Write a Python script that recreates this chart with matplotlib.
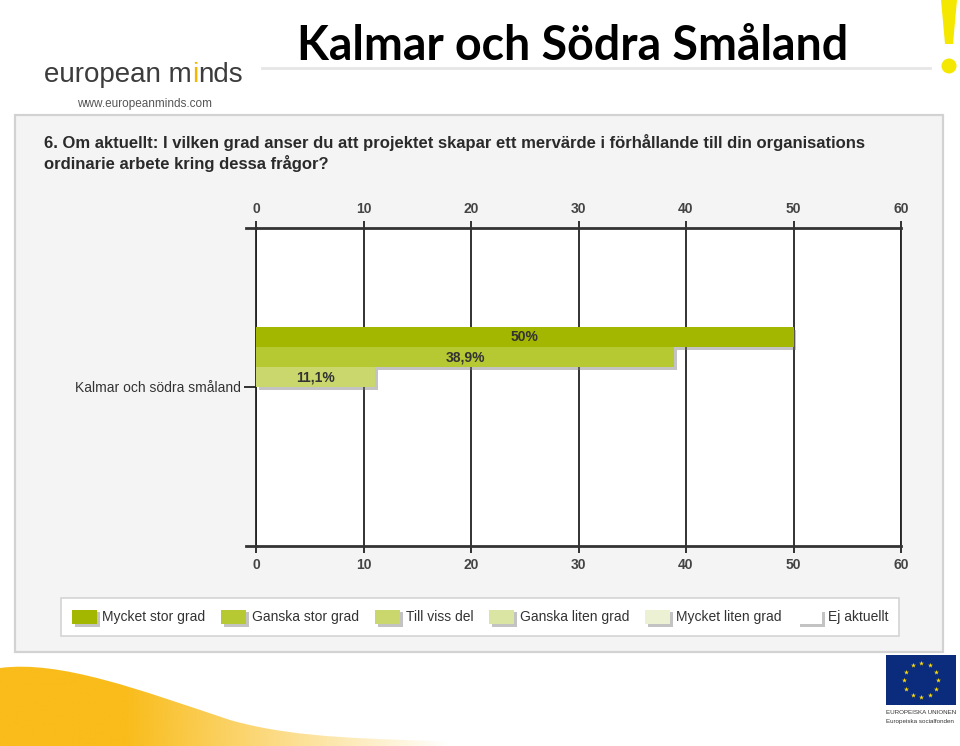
import matplotlib
matplotlib.use("Agg")
import matplotlib.pyplot as plt
import numpy as np
import matplotlib.patheffects as pe
from matplotlib.patches import Rectangle, Polygon, Circle, PathPatch
from matplotlib.path import Path
from matplotlib import font_manager

# ---------------- data ----------------
categories = ["Kalmar och södra småland"]
series_names = ["Mycket stor grad", "Ganska stor grad", "Till viss del",
                "Ganska liten grad", "Mycket liten grad", "Ej aktuellt"]
series_values = [50.0, 38.9, 11.1, 0.0, 0.0, 0.0]
value_labels = ["50%", "38,9%", "11,1%", "", "", ""]
series_colors = ["#a4b700", "#b6c832", "#c9d76c", "#dae5a4", "#ecf1d4", "#ffffff"]
x_ticks = [0, 10, 20, 30, 40, 50, 60]
question = ("6. Om aktuellt: I vilken grad anser du att projektet skapar ett mervärde "
            "i förhållande till din organisations\nordinarie arbete kring dessa frågor?")
slide_title = "Kalmar och Södra Småland"
logo_parts = ["european m", "i", "nds"]
logo_url = "www.europeanminds.com"
eu_lines = ["EUROPEISKA UNIONEN", "Europeiska socialfonden"]

names = {f.name for f in font_manager.fontManager.ttflist}
SANS = "Liberation Sans"
NARROW = "Liberation Sans Narrow" if "Liberation Sans Narrow" in names else SANS
TITLEF = "Lato" if "Lato" in names else "DejaVu Sans"

W, H = 960, 746
fig = plt.figure(figsize=(W / 100, H / 100), dpi=100)
fig.patch.set_facecolor("white")

# background / decoration axes in pixel coordinates
bg = fig.add_axes([0, 0, 1, 1])
bg.set_xlim(0, W)
bg.set_ylim(H, 0)
bg.axis("off")
bg.set_zorder(0)

# yellow swoosh with gradient
verts = [(0, 668), (60, 660), (140, 690), (230, 720), (300, 740), (380, 738), (450, 742),
         (450, 746), (0, 746), (0, 668)]
codes = [Path.MOVETO, Path.CURVE4, Path.CURVE4, Path.CURVE4, Path.CURVE4, Path.CURVE4,
         Path.CURVE4, Path.LINETO, Path.LINETO, Path.CLOSEPOLY]
swoosh = PathPatch(Path(verts, codes), fc="none", ec="none", transform=bg.transData)
bg.add_patch(swoosh)
N = 256
grad = np.zeros((1, N, 4))
grad[..., 0] = 249 / 255
grad[..., 1] = 188 / 255
grad[..., 2] = 26 / 255
xs = np.linspace(0, 1, N)
grad[0, :, 3] = np.clip((1.0 - xs) / 0.72, 0, 1)
im = bg.imshow(grad, extent=(0, 450, 746, 655), aspect="auto", zorder=1)
im.set_clip_path(swoosh)
bg.set_xlim(0, W)
bg.set_ylim(H, 0)

# chart panel
bg.add_patch(Rectangle((15, 115), 928, 537, fc="#f4f4f4", ec="#d2d2d2", lw=1.6, zorder=2))

# header: logo
LOGO_FS = 20
t1 = bg.text(44, 82, logo_parts[0], fontsize=LOGO_FS, family=NARROW, color="#3c3c3c",
             va="baseline", ha="left", zorder=3)
t2 = bg.annotate(logo_parts[1], xy=(1, 0), xycoords=t1, fontsize=LOGO_FS, family=NARROW,
                 color="#f2b705", va="bottom", ha="left", zorder=3)
t3 = bg.annotate(logo_parts[2], xy=(1, 0), xycoords=t2, fontsize=LOGO_FS, family=NARROW,
                 color="#3c3c3c", va="bottom", ha="left", zorder=3)
bg.text(145, 104, logo_url, fontsize=8.5, family=SANS, color="#555555",
        ha="center", va="center", zorder=3)

# slide title
bg.text(297, 60, slide_title, fontsize=33.5, family=TITLEF, fontweight="bold",
        color="#000000", ha="left", va="baseline", zorder=3)
bg.plot([262, 930], [68, 68], color="#e6e6e6", lw=2, zorder=3)

# exclamation mark
bg.add_patch(Polygon([(941, 0), (957, 0), (953, 44), (945, 44)], closed=True,
                     fc="#f5e800", ec="none", zorder=3))
bg.add_patch(Circle((949, 66), 7.5, fc="#f5e800", ec="none", zorder=3))

# EU flag
bg.add_patch(Rectangle((886, 655), 70, 50, fc="#0b2b7c", ec="none", zorder=3))
ang = np.linspace(0, 2 * np.pi, 13)[:-1]
bg.scatter(921 + 17 * np.cos(ang), 680 + 17 * np.sin(ang), marker="*", s=14,
           color="#ffdd00", linewidths=0, zorder=4)
bg.text(886, 713, eu_lines[0], fontsize=4.5, family=SANS, color="#333333",
        ha="left", va="center", zorder=3)
bg.text(886, 721, eu_lines[1], fontsize=4.5, family=SANS, color="#333333",
        ha="left", va="center", zorder=3)

# question text
bg.text(44, 153, question, fontsize=12, family=NARROW, fontweight="bold",
        color="#2a2a2a", ha="left", va="center", linespacing=1.25, zorder=3)

# ---------------- chart ----------------
ax = fig.add_axes([256 / W, 1 - 546 / H, 645 / W, 318 / H])
ax.set_zorder(1)
ax.set_facecolor("white")
ax.set_xlim(0, 60)
ax.set_ylim(-0.5, 0.5)

n = len(series_values)
h = 20 / 318
shadow = [pe.SimplePatchShadow(offset=(2, -2), shadow_rgbFace="#7a7a7a", alpha=0.45), pe.Normal()]
for i, (name, val, col, lab) in enumerate(zip(series_names, series_values, series_colors, value_labels)):
    off = (n / 2 - 0.5 - i) * h
    bc = ax.barh([k + off for k in range(len(categories))], [val], height=h, color=col,
                 label=name, path_effects=shadow, zorder=3, lw=0)
    if lab:
        ax.bar_label(bc, labels=[lab], label_type="center", fontsize=10, family=SANS,
                     color="#333333", fontweight="bold")

ax.set_xticks(x_ticks)
ax.set_xticklabels([str(t) for t in x_ticks])
ax.set_yticks(range(len(categories)))
ax.set_yticklabels(categories)
ax.grid(axis="x", color="#222222", lw=1.3, zorder=1)
ax.tick_params(axis="x", top=True, labeltop=True, bottom=True, labelbottom=True,
               direction="out", length=5, width=1.3, color="#222222", pad=3.5,
               labelsize=10, labelcolor="#444444")
ax.tick_params(axis="y", direction="out", length=9, width=1.3, color="#222222",
               pad=2, labelsize=10, labelcolor="#333333")
for lbl in ax.get_xticklabels() + ax.get_yticklabels():
    lbl.set_family(SANS)
for lbl in ax.get_xticklabels():
    lbl.set_fontweight("bold")
for s in ["top", "bottom"]:
    ax.spines[s].set_color("#333333")
    ax.spines[s].set_linewidth(2)
for s in ["left", "right"]:
    ax.spines[s].set_color("#222222")
    ax.spines[s].set_linewidth(1.3)
for yy in (0, 1):
    ax.plot([-10 / 645, 0], [yy, yy], transform=ax.transAxes, clip_on=False,
            color="#333333", lw=2)

leg = fig.legend(loc="center", bbox_to_anchor=(480 / W, 1 - 617 / H), ncol=6,
                 frameon=True, fancybox=False, edgecolor="#d4d4d4", facecolor="white",
                 framealpha=1, prop={"family": SANS, "size": 10}, handlelength=1.8,
                 handleheight=1.2, handletextpad=0.4, columnspacing=1.15,
                 borderpad=0.8)
leg.get_frame().set_linewidth(1.2)
for t in leg.get_texts():
    t.set_color("#333333")

fig.savefig("out.png", dpi=100, facecolor="white")
